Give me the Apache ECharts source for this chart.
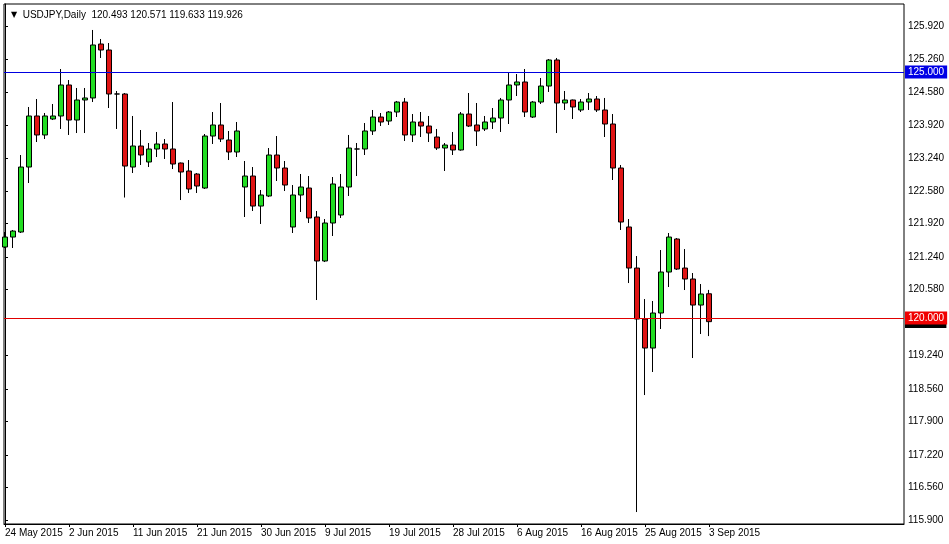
<!DOCTYPE html>
<html>
<head>
<meta charset="utf-8">
<script src="https://cdn.jsdelivr.net/npm/echarts@6/dist/echarts.min.js"></script>
<style>
html,body{margin:0;padding:0;background:#fff;}
#c{width:949px;height:544px;}
</style>
</head>
<body>
<div id="c"></div>
<script>
const symbolName = 'USDJPY,Daily';
const dates = [
 '24 May 2015','25 May 2015','26 May 2015','27 May 2015','28 May 2015','29 May 2015','31 May 2015',
 '1 Jun 2015','2 Jun 2015','3 Jun 2015','4 Jun 2015','5 Jun 2015','7 Jun 2015',
 '8 Jun 2015','9 Jun 2015','10 Jun 2015','11 Jun 2015','12 Jun 2015','14 Jun 2015',
 '15 Jun 2015','16 Jun 2015','17 Jun 2015','18 Jun 2015','19 Jun 2015','21 Jun 2015',
 '22 Jun 2015','23 Jun 2015','24 Jun 2015','25 Jun 2015','26 Jun 2015','28 Jun 2015',
 '29 Jun 2015','30 Jun 2015','1 Jul 2015','2 Jul 2015','3 Jul 2015','5 Jul 2015',
 '6 Jul 2015','7 Jul 2015','8 Jul 2015','9 Jul 2015','10 Jul 2015','12 Jul 2015',
 '13 Jul 2015','14 Jul 2015','15 Jul 2015','16 Jul 2015','17 Jul 2015','19 Jul 2015',
 '20 Jul 2015','21 Jul 2015','22 Jul 2015','23 Jul 2015','24 Jul 2015','26 Jul 2015',
 '27 Jul 2015','28 Jul 2015','29 Jul 2015','30 Jul 2015','31 Jul 2015','2 Aug 2015',
 '3 Aug 2015','4 Aug 2015','5 Aug 2015','6 Aug 2015','7 Aug 2015','9 Aug 2015',
 '10 Aug 2015','11 Aug 2015','12 Aug 2015','13 Aug 2015','14 Aug 2015','16 Aug 2015',
 '17 Aug 2015','18 Aug 2015','19 Aug 2015','20 Aug 2015','21 Aug 2015','23 Aug 2015',
 '24 Aug 2015','25 Aug 2015','26 Aug 2015','27 Aug 2015','28 Aug 2015','30 Aug 2015',
 '31 Aug 2015','1 Sep 2015','2 Sep 2015','3 Sep 2015'
];
const opens = [
 121.443,121.646,121.748,123.069,124.106,123.720,124.045,124.106,124.736,124.024,
 124.431,124.472,125.569,125.447,124.553,124.553,123.069,123.496,123.171,123.435,
 123.537,123.435,123.150,122.988,122.927,122.642,123.699,123.923,123.618,123.374,
 122.663,122.886,122.276,122.480,123.313,123.049,121.850,122.500,122.642,122.053,
 121.159,121.931,122.094,122.663,123.435,123.435,123.801,124.085,124.004,124.187,
 124.390,123.720,123.984,123.902,123.679,123.455,123.516,123.415,124.146,123.923,
 123.842,123.984,124.065,124.431,124.736,124.797,124.085,124.390,124.715,125.244,
 124.370,124.431,124.228,124.390,124.451,124.228,123.943,123.049,121.850,121.016,
 119.980,119.390,120.102,120.935,121.606,121.016,120.793,120.264,120.493
];
const closes = [
 121.646,121.768,123.069,124.106,123.720,124.106,124.106,124.736,124.024,124.431,
 124.472,125.549,125.447,124.553,124.553,123.089,123.496,123.313,123.435,123.537,
 123.435,123.130,122.968,122.622,122.683,123.699,123.923,123.638,123.374,123.801,
 122.886,122.276,122.500,123.313,123.049,122.703,122.500,122.663,122.033,121.159,
 121.931,122.724,122.663,123.455,123.435,123.801,124.085,123.984,124.187,124.390,
 123.720,123.984,123.902,123.760,123.455,123.516,123.415,124.146,123.902,123.801,
 123.984,124.065,124.431,124.736,124.797,124.187,124.390,124.715,125.244,124.370,
 124.431,124.289,124.390,124.451,124.228,123.943,123.049,121.951,121.016,119.980,
 119.390,120.102,120.935,121.646,120.996,120.793,120.264,120.488,119.926
];
const lows = [
 121.423,121.423,121.728,122.744,123.577,123.638,124.024,123.842,123.720,123.760,
 123.760,124.390,125.285,124.268,123.842,122.449,122.947,123.110,123.069,123.272,
 123.232,123.028,122.398,122.541,122.541,122.622,123.537,123.577,123.211,123.272,
 122.053,122.175,121.911,122.459,122.785,122.581,121.728,122.155,121.931,120.366,
 121.138,121.667,122.033,122.480,122.886,123.313,123.720,123.902,123.923,124.085,
 123.598,123.577,123.679,123.577,123.415,122.988,123.313,123.400,123.882,123.496,
 123.801,123.842,123.781,123.943,124.512,124.085,124.065,124.350,124.594,123.760,
 124.228,124.045,124.187,124.228,124.187,123.679,122.805,121.789,120.711,116.057,
 118.435,118.903,119.777,120.630,120.976,120.569,119.187,119.675,119.633
];
const highs = [
 121.748,121.789,123.313,124.289,124.451,124.167,124.350,125.061,124.837,124.675,
 124.675,125.854,125.671,125.589,124.614,124.573,124.106,123.821,123.557,123.781,
 123.638,124.390,123.160,123.211,122.947,123.740,124.187,124.370,123.801,123.984,
 123.191,123.069,122.602,123.455,123.699,123.191,122.703,122.927,122.886,122.175,
 122.012,122.866,122.927,123.720,123.557,123.963,124.228,124.167,124.207,124.411,
 124.472,124.146,124.187,124.106,123.842,123.557,123.781,124.187,124.573,124.370,
 124.106,124.268,124.472,124.980,124.959,125.061,124.411,124.878,125.264,125.285,
 124.614,124.440,124.451,124.573,124.512,124.472,124.146,123.110,122.012,121.260,
 120.386,120.346,121.382,121.728,121.626,121.402,120.915,120.691,120.571
];
const yTickLabels = [125.920,125.260,124.580,123.920,123.240,122.580,121.920,121.240,120.580,119.240,118.560,117.900,117.220,116.560,115.900];
const upperLevel = 125.000;
const lowerLevel = 120.000;
const bidPrice = 119.926;

const xLabelStep = 8;
const xLabelIdx = dates.map((d, i) => i).filter(i => i % xLabelStep === 0);
const candleData = opens.map((o, i) => [i, o, closes[i], lows[i], highs[i]]);
const last = opens.length - 1;
const ohlcText = [opens[last], highs[last], lows[last], closes[last]].map(v => v.toFixed(3)).join(' ');

const FONT = 'Liberation Sans, Arial, sans-serif';
const levelLabel = (txt, bg) => ({
  show: true, position: 'end', distance: 1, formatter: txt,
  color: '#fff', backgroundColor: bg, padding: [2, 3, 1, 3],
  fontSize: 10, fontFamily: FONT
});
const chart = echarts.init(document.getElementById('c'), null, {renderer: 'canvas'});
chart.setOption({
  animation: false,
  backgroundColor: '#ffffff',
  textStyle: {fontFamily: FONT},
  title: {
    left: 6, top: 5,
    text: '{t|▼}  ' + symbolName + '  ' + ohlcText,
    textStyle: {
      fontFamily: FONT, fontSize: 10, fontWeight: 'normal', color: '#000',
      rich: {t: {fontSize: 8, color: '#000', fontFamily: 'DejaVu Sans'}}
    }
  },
  grid: {
    left: 4, top: 4, right: 45, bottom: 20,
    show: true, borderColor: '#000', borderWidth: 1, backgroundColor: '#fff',
    containLabel: false
  },
  xAxis: {
    type: 'value',
    min: -0.125, max: 112.375,
    splitLine: {show: false},
    axisLine: {show: true, lineStyle: {color: '#000', width: 1}},
    axisTick: {show: true, customValues: xLabelIdx, length: 3, lineStyle: {color: '#000'}},
    axisLabel: {
      customValues: xLabelIdx, align: 'left', margin: 4,
      fontFamily: FONT, fontSize: 10, color: '#000',
      formatter: v => dates[Math.round(v)] || ''
    }
  },
  yAxis: {
    type: 'value', position: 'right',
    min: 115.814, max: 126.382,
    scale: true,
    splitLine: {show: false},
    axisLine: {show: true, lineStyle: {color: '#000', width: 1}},
    axisTick: {show: true, customValues: yTickLabels, length: 3, lineStyle: {color: '#000'}},
    axisLabel: {
      customValues: yTickLabels, margin: 4,
      fontFamily: FONT, fontSize: 10, color: '#000',
      formatter: v => v.toFixed(3)
    }
  },
  series: [{
    type: 'candlestick',
    data: candleData,
    encode: {x: 0, y: [1, 2, 3, 4]},
    barWidth: 5,
    clip: true,
    itemStyle: {
      color: '#22DD22', color0: '#E01414',
      borderColor: '#000', borderColor0: '#000', borderWidth: 1
    },
    markLine: {
      silent: true, symbol: 'none', animation: false,
      data: [
        {yAxis: bidPrice, lineStyle: {color: 'rgba(0,0,0,0)', width: 1}, label: levelLabel(bidPrice.toFixed(3), '#000')},
        {yAxis: upperLevel, lineStyle: {color: '#0000E0', width: 1, type: 'solid'}, label: levelLabel(upperLevel.toFixed(3), '#0000E6')},
        {yAxis: lowerLevel, lineStyle: {color: '#E00000', width: 1, type: 'solid'}, label: levelLabel(lowerLevel.toFixed(3), '#F00000')}
      ]
    }
  }]
});
</script>
</body>
</html>
